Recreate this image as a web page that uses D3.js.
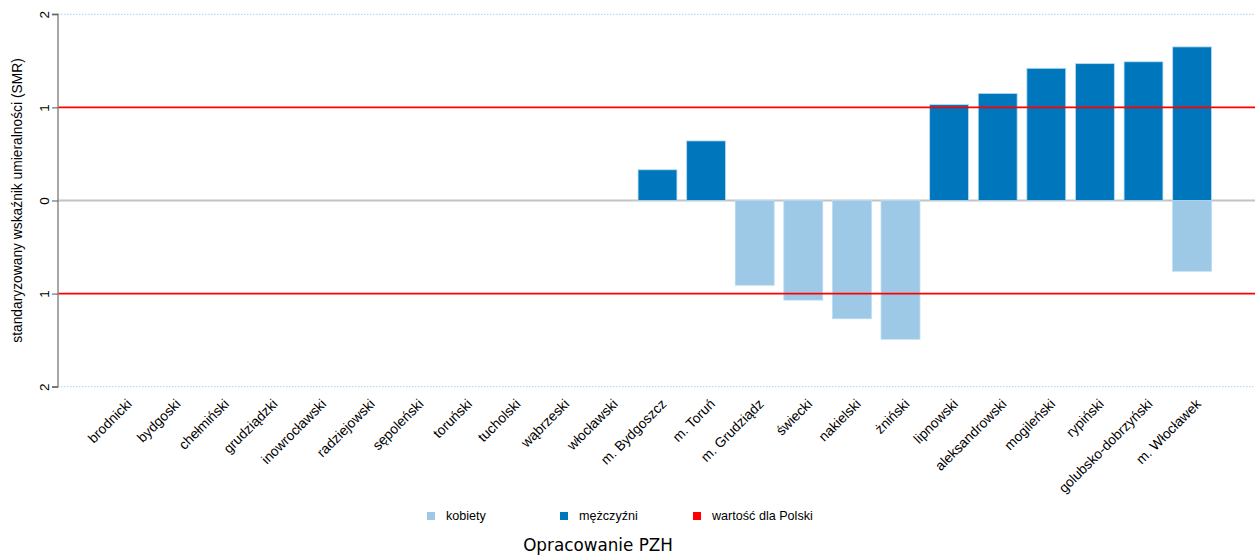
<!DOCTYPE html>
<html>
<head>
<meta charset="utf-8">
<script src="https://cdn.jsdelivr.net/npm/d3@7"></script>
<style>
  html, body { margin: 0; padding: 0; background: #fff; }
  svg { display: block; font-family: "Liberation Sans", Arial, sans-serif; }
</style>
</head>
<body>
<svg id="chart" width="1259" height="558"></svg>
<script>
// Powiaty województwa kujawsko-pomorskiego
const categories = [
  "brodnicki", "bydgoski", "chełmiński", "grudziądzki", "inowrocławski",
  "radziejowski", "sępoleński", "toruński", "tucholski", "wąbrzeski",
  "włocławski", "m. Bydgoszcz", "m. Toruń", "m. Grudziądz", "świecki",
  "nakielski", "żniński", "lipnowski", "aleksandrowski", "mogileński",
  "rypiński", "golubsko-dobrzyński", "m. Włocławek"
];
// Mężczyźni (wartości dodatnie)
const menValues = [
  0, 0, 0, 0, 0, 0, 0, 0, 0, 0, 0,
  0.33, 0.64, 0, 0, 0, 0,
  1.03, 1.15, 1.42, 1.47, 1.49, 1.65
];
// Kobiety (rysowane poniżej zera)
const womenValues = [
  0, 0, 0, 0, 0, 0, 0, 0, 0, 0, 0,
  0, 0, -0.91, -1.07, -1.27, -1.49,
  0, 0, 0, 0, 0, -0.76
];
const yTicks = [-2, -1, 0, 1, 2];
const yTickLabels = ["2", "1", "0", "1", "2"];
const polandRefs = [-1, 1];
const legendLabels = ["kobiety", "mężczyźni", "wartość dla Polski"];
const legendColors = ["#9dc8e6", "#0077bc", "#ff0000"];

const svg = d3.select("#chart");
const plotLeft = 58, plotRight = 1255;

const x = d3.scaleBand()
  .domain(categories)
  .range([98.6, 1216.4])
  .paddingInner(0.2)
  .paddingOuter(0.1);

const y = d3.scaleLinear().domain([-2, 2]).range([386.7, 14.3]);

// Dotted limits at ±2
svg.append("g").selectAll("line")
  .data([-2, 2])
  .join("line")
  .attr("x1", plotLeft).attr("x2", plotRight)
  .attr("y1", d => y(d)).attr("y2", d => y(d))
  .attr("stroke", "#a9d3ea")
  .attr("stroke-width", 1)
  .attr("stroke-dasharray", "1.5,1.5");

// Zero line
svg.append("line")
  .attr("x1", plotLeft).attr("x2", plotRight)
  .attr("y1", y(0)).attr("y2", y(0))
  .attr("stroke", "#c4c4c4").attr("stroke-width", 2);

const bars = svg.append("g");
function drawBars(values, color) {
  bars.append("g").selectAll("rect")
    .data(categories.map((c, i) => ({ c, v: values[i] })).filter(d => d.v !== 0))
    .join("rect")
    .attr("x", d => x(d.c))
    .attr("width", x.bandwidth())
    .attr("y", d => y(Math.max(0, d.v)))
    .attr("height", d => Math.abs(y(d.v) - y(0)))
    .attr("fill", color)
    .attr("stroke", "#b9dcf2")
    .attr("stroke-width", 0.8);
}
drawBars(womenValues, legendColors[0]);
drawBars(menValues, legendColors[1]);

// Reference lines for Poland
svg.append("g").selectAll("line")
  .data(polandRefs)
  .join("line")
  .attr("x1", plotLeft).attr("x2", plotRight)
  .attr("y1", d => y(d)).attr("y2", d => y(d))
  .attr("stroke", legendColors[2]).attr("stroke-width", 1.6);

// Y axis
const yAxis = d3.axisLeft(y)
  .tickValues(yTicks)
  .tickSize(6)
  .tickFormat((d, i) => yTickLabels[i]);
const ya = svg.append("g")
  .attr("transform", `translate(${plotLeft},0)`)
  .call(yAxis);
ya.select(".domain").attr("stroke", "#8a8a8a").attr("stroke-width", 1.5)
  .attr("d", `M-6,${y(2)}H0V${y(-2)}H-6`);
ya.selectAll(".tick line").attr("stroke", "#555");
ya.selectAll(".tick text")
  .attr("font-size", 13.5)
  .attr("fill", "#000")
  .attr("x", null).attr("dy", null)
  .attr("text-anchor", "middle")
  .attr("transform", "translate(-14,0) rotate(-90)")
  .attr("dy", "0.35em");

// Y axis title
svg.append("text")
  .attr("transform", `translate(22,${y(0)}) rotate(-90)`)
  .attr("text-anchor", "middle")
  .attr("font-size", 13.8)
  .attr("fill", "#000")
  .text("standaryzowany wskaźnik umieralności (SMR)");

// Category labels
svg.append("g").selectAll("text")
  .data(categories)
  .join("text")
  .attr("transform", d => `translate(${x(d) + x.bandwidth() / 2 + 3},${398}) rotate(-45)`)
  .attr("text-anchor", "end")
  .attr("dy", "0.7em")
  .attr("font-size", 13.8)
  .attr("fill", "#000")
  .text(d => d);

// Legend
const legendX = [431, 564, 697];
const lg = svg.append("g").selectAll("g")
  .data(legendLabels)
  .join("g")
  .attr("transform", (d, i) => `translate(${legendX[i]},516)`);
lg.append("rect")
  .attr("x", -4).attr("y", -4).attr("width", 8).attr("height", 8)
  .attr("fill", (d, i) => legendColors[i]);
lg.append("text")
  .attr("x", 15).attr("dy", "0.35em")
  .attr("font-size", 12.6)
  .attr("fill", "#000")
  .text(d => d);

// Source caption
svg.append("text")
  .attr("x", 598).attr("y", 551)
  .attr("text-anchor", "middle")
  .attr("font-family", "'DejaVu Sans', sans-serif")
  .attr("font-size", 16.8)
  .attr("fill", "#000")
  .text("Opracowanie PZH");
</script>
</body>
</html>
